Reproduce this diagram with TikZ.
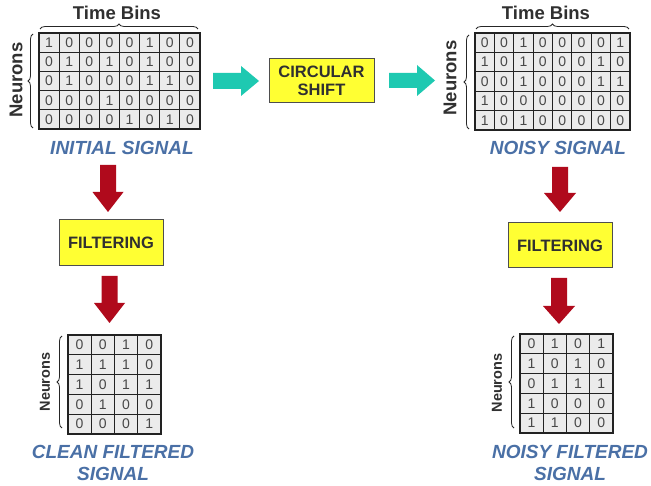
\documentclass[tikz,border=0pt]{standalone}
\usepackage{fontspec}
\setmainfont{Liberation Sans}
\usetikzlibrary{decorations.pathreplacing}
\definecolor{cellfill}{HTML}{EBEBEB}
\definecolor{celltext}{HTML}{484848}
\definecolor{gridline}{HTML}{222222}
\definecolor{sigblue}{HTML}{4A70A6}
\definecolor{boxyellow}{HTML}{FFFF33}
\definecolor{boxtext}{HTML}{303030}
\definecolor{arrred}{HTML}{B00A1C}
\definecolor{arrteal}{HTML}{1EC9B1}
\newcommand\drawgrid[6]{% name, x0, y0, cell w, cell h, rows
  \foreach \rowdata [count=\r] in {#6}{
    \foreach \v [count=\c] in \rowdata{
      \node[cell, minimum width=#4pt, minimum height=#5pt]
        (#1-\r-\c) at ({#2+(\c-0.5)*#4},{#3+(\r-0.5)*#5}) {\v};
    }
  }
}
\begin{document}
\begin{tikzpicture}[x=1pt,y=-1pt,
  cell/.style={draw=gridline, line width=1.1pt, fill=cellfill, inner sep=0pt,
    font=\fontsize{14}{14}\selectfont, text=celltext},
  procbox/.style={draw=gridline!80, line width=1pt, fill=boxyellow, inner sep=0pt,
    align=center, font=\fontsize{16.5}{18.5}\selectfont\bfseries, text=boxtext},
  siglabel/.style={align=center, text=sigblue, inner sep=0pt,
    font=\fontsize{19}{22}\selectfont\bfseries\itshape},
  axislabel/.style={inner sep=0pt, text=boxtext, font=\fontsize{18.5}{20}\selectfont\bfseries},
  smallaxis/.style={inner sep=0pt, text=boxtext, font=\fontsize{14.5}{16}\selectfont\bfseries},
  bracestyle/.style={draw=black!85, line width=0.8pt, decorate, decoration={brace, amplitude=5pt}},
  redarrow/.style={fill=arrred, draw=none},
  tealarrow/.style={fill=arrteal, draw=none}]
\useasboundingbox (0,0) rectangle (651,486);
\fill[white] (0,0) rectangle (651,486);

% ---------- top-left matrix: initial signal
\drawgrid{mi}{39}{33}{20.125}{19.2}{{1,0,0,0,0,1,0,0},{0,1,0,1,0,1,0,0},{0,1,0,0,0,1,1,0},{0,0,0,1,0,0,0,0},{0,0,0,0,1,0,1,0}}
\draw[gridline, line width=1.6pt] (mi-1-1.north west) rectangle (mi-5-8.south east);
\draw[bracestyle] (40,29) -- (198,29);
\node[axislabel] (tbl) at (117,13) {Time Bins};
\draw[bracestyle] (33,128) -- (33,34);
\node[axislabel, rotate=90] (nl) at (16,80) {Neurons};
\node[siglabel] (initial) at (122,148) {INITIAL SIGNAL};

% ---------- top-right matrix: noisy signal
\drawgrid{mn}{475}{33}{19.375}{19.4}{{0,0,1,0,0,0,0,1},{1,0,1,0,0,0,1,0},{0,0,1,0,0,0,1,1},{1,0,0,0,0,0,0,0},{1,0,1,0,0,0,0,0}}
\draw[gridline, line width=1.6pt] (mn-1-1.north west) rectangle (mn-5-8.south east);
\draw[bracestyle] (476,29) -- (629,29);
\node[axislabel] (tbr) at (546,13) {Time Bins};
\draw[bracestyle] (469,129) -- (469,35);
\node[axislabel, rotate=90] (nr) at (450,78) {Neurons};
\node[siglabel] (noisy) at (558,148) {NOISY SIGNAL};

% ---------- circular shift
\node[procbox, minimum width=105pt, minimum height=44pt] (shift) at (321.5,81) {CIRCULAR\\SHIFT};
\fill[tealarrow] (213,73) -- (241,73) -- (241,66) -- (259,81) -- (241,96) -- (241,89) -- (213,89) -- cycle;
\fill[tealarrow] (389,73) -- (417,73) -- (417,65) -- (435,80.5) -- (417,96) -- (417,88) -- (389,88) -- cycle;

% ---------- left column
\node[procbox, minimum width=104pt, minimum height=46pt] (filtl) at (111,243) {FILTERING};
\fill[redarrow] (100,165) -- (116,165) -- (116,192) -- (123.5,192) -- (108,212) -- (92.5,192) -- (100,192) -- cycle;
\fill[redarrow] (101.5,276) -- (117.5,276) -- (117.5,303) -- (125,303) -- (109.5,323) -- (94,303) -- (101.5,303) -- cycle;

\drawgrid{mc}{68}{335}{23.25}{19.8}{{0,0,1,0},{1,1,1,0},{1,0,1,1},{0,1,0,0},{0,0,0,1}}
\draw[gridline, line width=1.6pt] (mc-1-1.north west) rectangle (mc-5-4.south east);
\draw[bracestyle] (62,428) -- (62,336);
\node[smallaxis, rotate=90] (ncl) at (45,382) {Neurons};
\node[siglabel] (clean) at (113,462.5) {CLEAN FILTERED\\SIGNAL};

% ---------- right column
\node[procbox, minimum width=104pt, minimum height=45pt] (filtr) at (560,245.5) {FILTERING};
\fill[redarrow] (552,167) -- (568,167) -- (568,193) -- (576,193) -- (560,212) -- (544,193) -- (552,193) -- cycle;
\fill[redarrow] (551,278) -- (567,278) -- (567,306) -- (575,306) -- (559,324) -- (543,306) -- (551,306) -- cycle;

\drawgrid{mf}{520}{334}{23.25}{19.8}{{0,1,0,1},{1,0,1,0},{0,1,1,1},{1,0,0,0},{1,1,0,0}}
\draw[gridline, line width=1.6pt] (mf-1-1.north west) rectangle (mf-5-4.south east);
\draw[bracestyle] (514,428) -- (514,336);
\node[smallaxis, rotate=90] (ncr) at (497,383) {Neurons};
\node[siglabel] (noisyf) at (570,462.5) {NOISY FILTERED\\SIGNAL};
\end{tikzpicture}
\end{document}
